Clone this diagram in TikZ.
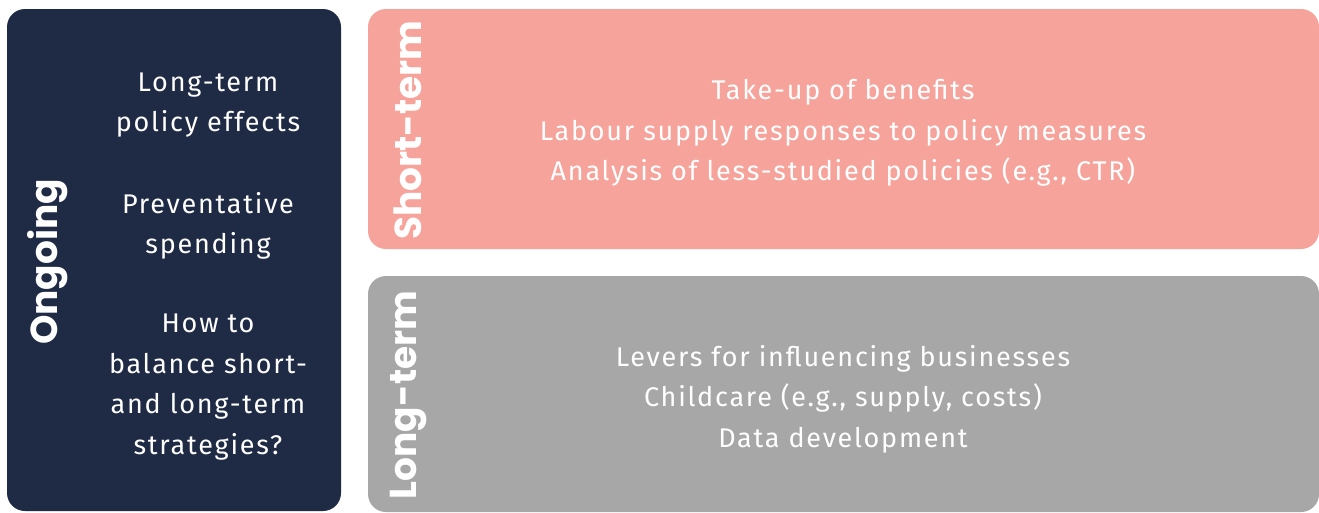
\documentclass[tikz,border=0pt]{standalone}
\usepackage{fontspec}
\setmainfont{Fira Sans}
\newfontfamily\bodyfont{Fira Sans}[LetterSpace=6.5]
\newfontfamily\titlefont{Poppins}
\definecolor{navy}{HTML}{1F2A44}
\definecolor{salmon}{HTML}{F6A39B}
\definecolor{midgray}{HTML}{A7A7A7}
\tikzset{
  panel/.style={rounded corners=18pt, draw=none},
  bodytext/.style={text=white, align=center, inner sep=0pt, font=\bodyfont\fontsize{27}{40.5}\selectfont},
  titletext/.style={text=white, rotate=90, inner sep=0pt, font=\titlefont\bfseries\fontsize{37.5}{40}\selectfont}
}
\begin{document}
\begin{tikzpicture}[x=1pt,y=-1pt]
\useasboundingbox (0,0) rectangle (1319,512);
\fill[white] (0,0) rectangle (1319,512);
\fill[panel, navy] (7,9) rectangle (341,511);
\fill[panel, salmon] (368,9) rectangle (1319,249);
\fill[panel, midgray] (368,276) rectangle (1319,512);
\node[titletext] (ongoing) at (48,262) {Ongoing};
\node[titletext] (short) at (408,130) {Short-term};
\node[titletext] (long) at (408,395) {Long-term};
\node[bodytext] (lt) at (208,105) {Long-term\\policy effects};
\node[bodytext] (ps) at (208,226) {Preventative\\spending};
\node[bodytext] (bal) at (208,387) {How to\\balance short-\\and long-term\\strategies?};
\node[bodytext] (st) at (843,133) {Take-up of benefits\\Labour supply responses to policy measures\\Analysis of less-studied policies (e.g., CTR)};
\node[bodytext] (ltl) at (843,399) {Levers for influencing businesses\\Childcare (e.g., supply, costs)\\Data development};
\end{tikzpicture}
\end{document}
